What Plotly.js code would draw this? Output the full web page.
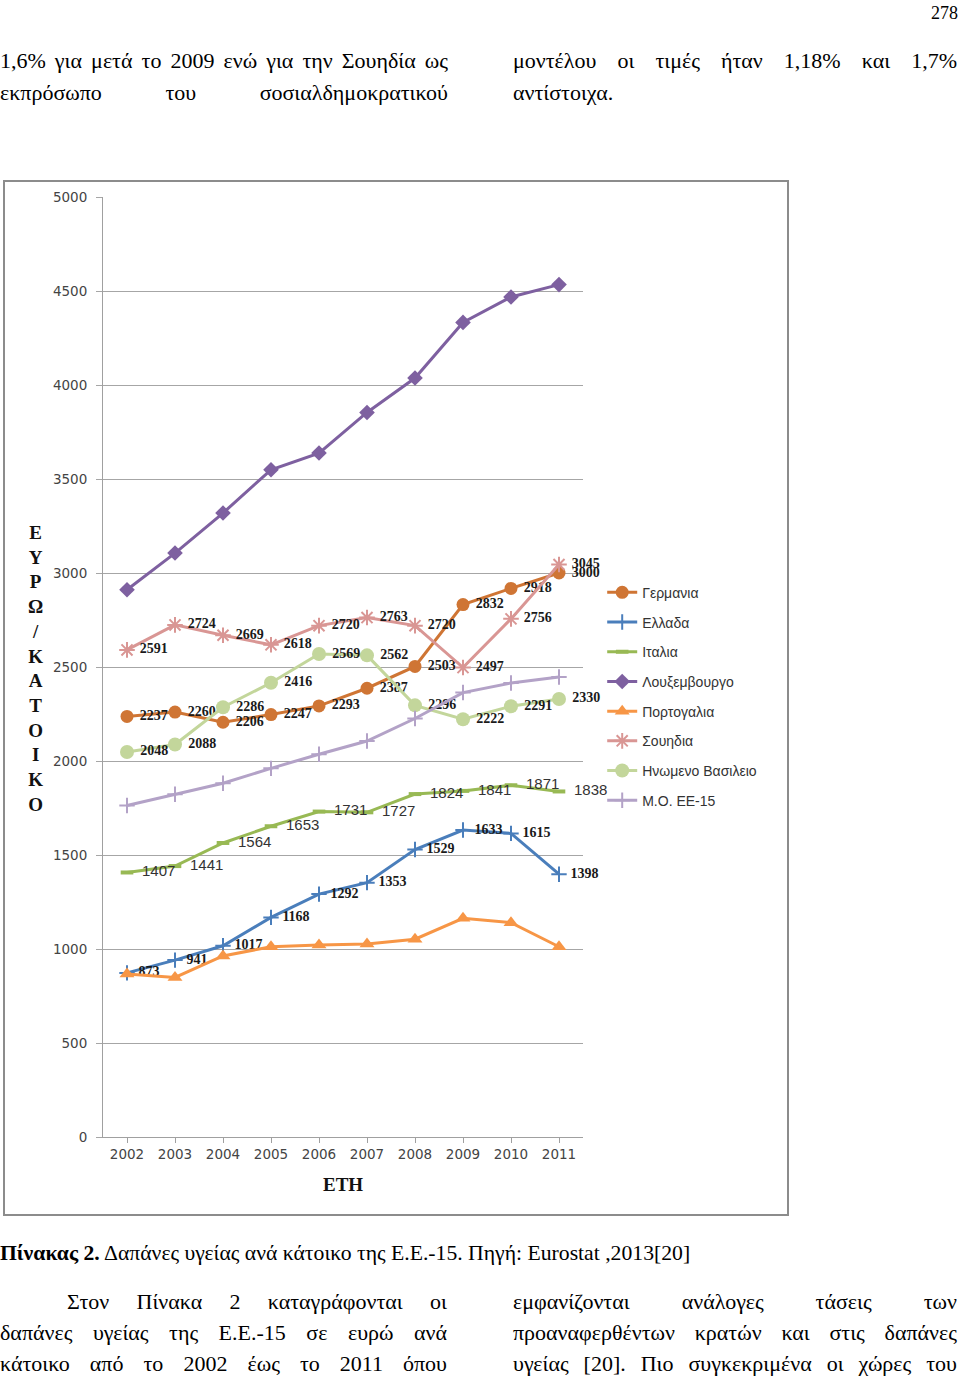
<!DOCTYPE html>
<html>
<head>
<meta charset="utf-8">
<script src="https://cdn.plot.ly/plotly-3.0.1.min.js"></script>
<style>
  html, body { margin:0; padding:0; background:#fff; }
  #page { position:relative; width:960px; height:1378px; overflow:hidden; font-family:"Liberation Serif", serif; color:#000; }
  .ln { position:absolute; font-size:22px; line-height:26px; height:26px; white-space:normal; }
  .j { text-align:justify; text-align-last:justify; }
  #frame { position:absolute; left:3px; top:180px; width:782px; height:1032px; border:2px solid #8c8c8c; }
  #chart { position:absolute; left:0; top:0; width:782px; height:1032px; }
</style>
</head>
<body>
<div id="page">
  <div class="ln" style="left:900px; width:58px; top:0px; text-align:right; font-size:18px;">278</div>

  <div class="ln j" style="left:0px; width:448px; top:48px;">1,6% για μετά το 2009 ενώ για την Σουηδία ως</div>
  <div class="ln j" style="left:0px; width:448px; top:80px;">εκπρόσωπο του σοσιαλδημοκρατικού</div>
  <div class="ln j" style="left:513px; width:444px; top:48px;">μοντέλου οι τιμές ήταν 1,18% και 1,7%</div>
  <div class="ln" style="left:513px; width:444px; top:80px;">αντίστοιχα.</div>

  <div id="frame"><div id="chart"></div></div>

  <div class="ln" style="left:0px; width:900px; top:1240px; font-size:21.7px;"><b>Πίνακας 2.</b> Δαπάνες υγείας ανά κάτοικο της Ε.Ε.-15. Πηγή: Eurostat ,2013[20]</div>

  <div class="ln j" style="left:67px; width:380px; top:1289px;">Στον Πίνακα 2 καταγράφονται οι</div>
  <div class="ln j" style="left:0px; width:447px; top:1320px;">δαπάνες υγείας της Ε.Ε.-15 σε ευρώ ανά</div>
  <div class="ln j" style="left:0px; width:447px; top:1351px;">κάτοικο από το 2002 έως το 2011 όπου</div>
  <div class="ln j" style="left:513px; width:444px; top:1289px;">εμφανίζονται ανάλογες τάσεις των</div>
  <div class="ln j" style="left:513px; width:444px; top:1320px;">προαναφερθέντων κρατών και στις δαπάνες</div>
  <div class="ln j" style="left:513px; width:444px; top:1351px;">υγείας [20]. Πιο συγκεκριμένα οι χώρες του</div>
</div>
<script>
// ---- data ----
var years = ['2002','2003','2004','2005','2006','2007','2008','2009','2010','2011'];
var germany    = [2237, 2260, 2206, 2247, 2293, 2387, 2503, 2832, 2918, 3000];
var greece     = [873, 941, 1017, 1168, 1292, 1353, 1529, 1633, 1615, 1398];
var italy      = [1407, 1441, 1564, 1653, 1731, 1727, 1824, 1841, 1871, 1838];
var luxembourg = [2911, 3106, 3319, 3549, 3638, 3854, 4037, 4333, 4468, 4534];
var portugal   = [867, 849, 963, 1012, 1021, 1027, 1052, 1163, 1140, 1012];
var sweden     = [2591, 2724, 2669, 2618, 2720, 2763, 2720, 2497, 2756, 3045];
var uk         = [2048, 2088, 2286, 2416, 2569, 2562, 2296, 2222, 2291, 2330];
var eu15       = [1763, 1823, 1882, 1961, 2036, 2106, 2226, 2364, 2415, 2447];
var seriesNames = ['Γερμανια','Ελλαδα','Ιταλια','Λουξεμβουργο','Πορτογαλια','Σουηδια','Ηνωμενο Βασιλειο','Μ.Ο. ΕΕ-15'];
var yTitle = 'Ε<br>Υ<br>Ρ<br>Ω<br>/<br>Κ<br>Α<br>Τ<br>Ο<br>Ι<br>Κ<br>Ο';
var xTitle = 'ΕΤΗ';

var serifLbl = {family:'Liberation Serif, serif', size:14, color:'#1a1a1a', weight:'bold'};
var sansLbl  = {family:'Liberation Sans, sans-serif', size:15, color:'#333'};

function tr(name, y, color, marker, labels, font, pad, idx) {
  var t = {
    type:'scatter', x:years, y:y, name:name,
    legendgroup:'g'+idx,
    mode: labels ? 'lines+markers+text' : 'lines+markers',
    line:{color:color, width:3},
    marker:marker,
    cliponaxis:false
  };
  if (labels) {
    t.text = y.map(function(v){ return pad + String(v); });
    t.textposition = 'middle right';
    t.textfont = font;
  }
  return t;
}

var nb1 = '\u00a0', nb2 = '\u00a0\u00a0';
var traces = [
  tr(seriesNames[0], germany, '#CF7534', {symbol:'circle', size:13, color:'#CF7534'}, true, serifLbl, nb1, 0),
  tr(seriesNames[1], greece, '#4A7EBB', {symbol:'cross-thin-open', size:11, line:{color:'#4A7EBB', width:2}}, true, serifLbl, nb1, 1),
  tr(seriesNames[2], italy, '#98B954', {symbol:'line-ew-open', size:9, line:{color:'#98B954', width:4}}, true, sansLbl, nb2, 2),
  tr(seriesNames[3], luxembourg, '#7E60A0', {symbol:'diamond', size:12, color:'#7E60A0'}, false, null, '', 3),
  tr(seriesNames[4], portugal, '#F79646', {symbol:'triangle-up', size:13, color:'#F79646'}, false, null, '', 4),
  tr(seriesNames[5], sweden, '#D99694', {symbol:'asterisk-open', size:13, line:{color:'#D99694', width:2}}, true, serifLbl, nb1, 5),
  tr(seriesNames[6], uk, '#C3D69B', {symbol:'circle', size:14, color:'#C3D69B'}, true, serifLbl, nb1, 6),
  tr(seriesNames[7], eu15, '#B3A2C7', {symbol:'cross-thin-open', size:11, line:{color:'#B3A2C7', width:2}}, false, null, '', 7)
];

var layout = {
  width:782, height:1032,
  margin:{l:98, r:204, t:15, b:77, pad:0},
  paper_bgcolor:'#fff', plot_bgcolor:'#fff',
  showlegend:true,
  legend:{
    x:1.04, y:0.596, xanchor:'left', yanchor:'top',
    font:{family:'Liberation Sans, sans-serif', size:14, color:'#333'},
    traceorder:'grouped', tracegroupgap:8.5, itemwidth:30,
    bgcolor:'rgba(0,0,0,0)'
  },
  xaxis:{
    type:'category', range:[-0.5, 9.5],
    showgrid:false, zeroline:false,
    showline:true, linecolor:'#a0a0a0', linewidth:1,
    ticks:'outside', ticklen:5, tickcolor:'#a0a0a0',
    tickfont:{family:'DejaVu Sans, sans-serif', size:13.5, color:'#444'},
    fixedrange:true
  },
  yaxis:{
    range:[0, 5000], dtick:500, tick0:0,
    showgrid:true, gridcolor:'#a6a6a6', gridwidth:1,
    zeroline:false,
    showline:true, linecolor:'#a0a0a0', linewidth:1,
    ticks:'outside', ticklen:6, tickcolor:'#a6a6a6',
    ticklabelstandoff:6,
    tickfont:{family:'DejaVu Sans, sans-serif', size:13.5, color:'#444'},
    fixedrange:true
  },
  annotations:[
    {xref:'paper', yref:'paper', x:-0.1396, y:0.498, xanchor:'center', yanchor:'middle',
     text:'<b>'+yTitle+'</b>', showarrow:false, align:'center',
     font:{family:'Liberation Serif, serif', size:19, color:'#111'}},
    {xref:'paper', yref:'paper', x:0.5, y:-0.05, xanchor:'center', yanchor:'middle',
     text:'<b>'+xTitle+'</b>', showarrow:false,
     font:{family:'Liberation Serif, serif', size:19, color:'#111'}}
  ]
};

Plotly.newPlot('chart', traces, layout, {staticPlot:true, displayModeBar:false});
</script>
</body>
</html>
